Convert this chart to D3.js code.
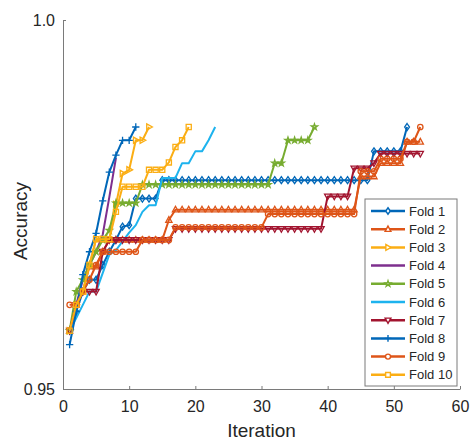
<!DOCTYPE html>
<html>
<head>
<meta charset="utf-8">
<script src="https://cdn.jsdelivr.net/npm/d3@7/dist/d3.min.js"></script>
<style>
  html, body { margin: 0; padding: 0; background: #fff; }
  svg { display: block; }
  text { font-family: "Liberation Sans", Arial, sans-serif; fill: #262626; }
</style>
</head>
<body>
<svg id="chart" width="470" height="440"></svg>
<script>
// ---------- data ----------
const seriesNames = ["Fold 1","Fold 2","Fold 3","Fold 4","Fold 5","Fold 6","Fold 7","Fold 8","Fold 9","Fold 10"];
const xTicks = [0, 10, 20, 30, 40, 50, 60];
const yTicks = [0.95, 1.0];
const yTickLabels = ["0.95", "1.0"];

const fold1 = [0.9579,0.9605,0.9632,0.9648,0.9648,0.9668,0.9686,0.9702,0.9720,0.9722,0.9758,0.9758,0.9758,0.9758,
  0.9783,0.9783,0.9783,0.9783,0.9783,0.9783,0.9783,0.9783,
  0.9783,0.9783,0.9783,0.9783,0.9783,0.9783,0.9783,0.9783,
  0.9783,0.9783,0.9783,0.9783,0.9783,0.9783,0.9783,0.9783,
  0.9783,0.9783,0.9783,0.9783,0.9783,0.9783,0.9783,0.9783,
  0.9822,0.9822,0.9822,0.9822,0.9822,0.9855];
const fold2 = [0.9579,0.9614,0.9632,0.9666,0.9666,0.9686,
  0.9702,0.9702,0.9702,0.9702,0.9702,0.9702,0.9702,0.9702,0.9702,
  0.9729,
  0.9743,0.9743,0.9743,0.9743,0.9743,0.9743,0.9743,
  0.9743,0.9743,0.9743,0.9743,0.9743,0.9743,0.9743,
  0.9743,0.9743,0.9743,0.9743,0.9743,0.9743,0.9743,
  0.9743,0.9743,0.9743,0.9743,0.9743,0.9743,0.9743,
  0.9788,0.9788,0.9788,0.9806,0.9806,0.9806,0.9806,0.9835,0.9835,0.9835];
const fold3 = [0.9579,0.9614,0.9632,0.9668,0.9703,0.9703,0.9703,0.9750,0.9792,0.9797,0.9837,0.9837,0.9855];
const fold4 = [0.9579,0.9614,0.9648,0.9668,0.9686,0.9709,0.9760,0.9813];
const fold5 = [0.9579,0.9632,0.9648,0.9668,0.9686,0.9702,0.9715,
  0.9752,0.9752,0.9752,0.9752,
  0.9777,0.9777,0.9777,0.9777,0.9777,0.9777,0.9777,0.9777,0.9777,0.9777,
  0.9777,0.9777,0.9777,0.9777,0.9777,0.9777,0.9777,0.9777,0.9777,0.9777,
  0.9806,0.9806,0.9837,0.9837,0.9837,0.9837,0.9855];
const fold6 = [0.9579,0.9596,0.9614,0.9632,0.9632,0.9657,0.9682,0.9688,0.9700,0.9712,0.9722,0.9740,
  0.9749,0.9749,0.9786,0.9786,0.9786,0.9806,0.9806,0.9822,0.9822,0.9837,0.9855];
const fold7 = [0.9579,0.9614,0.9632,0.9632,0.9632,0.9686,
  0.9702,0.9702,0.9702,0.9702,0.9702,0.9702,0.9702,0.9702,0.9702,0.9702,
  0.9717,0.9717,0.9717,0.9717,0.9717,0.9717,0.9717,0.9717,
  0.9717,0.9717,0.9717,0.9717,0.9717,0.9717,0.9717,0.9717,
  0.9717,0.9717,0.9717,0.9717,0.9717,0.9717,0.9717,
  0.9761,0.9761,0.9761,0.9761,
  0.9799,0.9799,0.9799,0.9806,
  0.9819,0.9819,0.9819,0.9819,0.9819,0.9819,0.9819];
const fold8 = [0.9560,0.9605,0.9655,0.9686,0.9711,0.9755,0.9794,0.9817,0.9837,0.9837,0.9855];
const fold9 = [0.9614,0.9614,0.9632,0.9648,0.9668,
  0.9686,0.9686,0.9686,0.9686,0.9686,0.9686,
  0.9702,0.9702,0.9702,0.9702,0.9702,
  0.9719,0.9719,0.9719,0.9719,0.9719,0.9719,0.9719,
  0.9719,0.9719,0.9719,0.9719,0.9719,0.9719,0.9719,
  0.9737,0.9737,0.9737,0.9737,0.9737,0.9737,0.9737,
  0.9737,0.9737,0.9737,0.9737,0.9737,0.9737,0.9737,
  0.9795,0.9795,0.9795,0.9812,0.9812,0.9812,0.9812,0.9835,0.9835,0.9855];
const fold10 = [0.9579,0.9614,0.9632,0.9668,0.9703,0.9703,0.9703,0.9740,
  0.9774,0.9774,0.9774,0.9774,0.9797,0.9797,0.9797,0.9807,0.9828,0.9837,0.9855];

const allSeries = [fold1, fold2, fold3, fold4, fold5, fold6, fold7, fold8, fold9, fold10];
const colors = ["#0067B8","#DE5518","#FBAE14","#7E2F8E","#77AC30","#1DB3EE","#A2142F","#0067B8","#DE5518","#FBAE14"];
const markers = ["diamond","tri-up","tri-right","none","star","none","tri-down","plus","circle","square"];

// ---------- scales ----------
const svg = d3.select("#chart");
const x = d3.scaleLinear().domain([0, 60]).range([63, 460]);
const y = d3.scaleLinear().domain([0.95, 1.0]).range([389, 20]);

// ---------- marker shapes ----------
function markerPath(type, r) {
  switch (type) {
    case "circle": return d3.symbol(d3.symbolCircle, Math.PI * r * r)();
    case "diamond": return `M0,${-r*1.3}L${r*0.9},0L0,${r*1.3}L${-r*0.9},0Z`;
    case "tri-up": return `M0,${-r*1.25}L${r*1.15},${r*0.85}L${-r*1.15},${r*0.85}Z`;
    case "tri-down": return `M0,${r*1.25}L${r*1.15},${-r*0.85}L${-r*1.15},${-r*0.85}Z`;
    case "tri-right": return `M${r*1.25},0L${-r*0.85},${r*1.15}L${-r*0.85},${-r*1.15}Z`;
    case "square": return `M${-r*0.95},${-r*0.95}H${r*0.95}V${r*0.95}H${-r*0.95}Z`;
    case "plus": return `M${-r*1.35},0H${r*1.35}M0,${-r*1.35}V${r*1.35}`;
    case "star": return d3.symbol(d3.symbolStar, 1.6 * r * r)();
    default: return null;
  }
}

// ---------- axes ----------
const xAxis = d3.axisBottom(x).tickValues(xTicks).tickSize(-3).tickSizeOuter(0).tickPadding(12);
const yAxis = d3.axisLeft(y).tickValues(yTicks).tickFormat((d, i) => yTickLabels[i]).tickSize(-3).tickSizeOuter(0).tickPadding(8);

const gx = svg.append("g").attr("transform", "translate(0,389)").call(xAxis);
const gy = svg.append("g").attr("transform", "translate(63,0)").call(yAxis);
[gx, gy].forEach(g => {
  g.select(".domain").attr("stroke", "#7a7a7a").attr("stroke-width", 1);
  g.selectAll(".tick line").attr("stroke", "#7a7a7a");
  g.selectAll(".tick text").style("font-size", "16px").attr("fill", "#262626");
});

// ---------- lines ----------
const line = d3.line().x((d, i) => x(i + 1)).y(d => y(d));
const plot = svg.append("g");
allSeries.forEach((s, k) => {
  const g = plot.append("g");
  g.append("path").datum(s).attr("d", line)
    .attr("fill", "none").attr("stroke", colors[k]).attr("stroke-width", 2)
    .attr("stroke-linejoin", "round");
  const mp = markerPath(markers[k], 2.7);
  if (mp) {
    g.selectAll("path.m").data(s).join("path").attr("class", "m")
      .attr("d", mp)
      .attr("transform", (d, i) => `translate(${x(i + 1)},${y(d)})`)
      .attr("fill", "none").attr("stroke", colors[k]).attr("stroke-width", 1.3);
  }
});

// ---------- axis labels ----------
svg.append("text").attr("x", 261.5).attr("y", 437).attr("text-anchor", "middle")
  .style("font-size", "19px").text("Iteration");
svg.append("text").attr("transform", "translate(27,221) rotate(-90)").attr("text-anchor", "middle")
  .style("font-size", "19px").text("Accuracy");

// ---------- legend ----------
const lg = svg.append("g");
lg.append("rect").attr("x", 365).attr("y", 199).attr("width", 92).attr("height", 187)
  .attr("fill", "#fff").attr("stroke", "#7a7a7a").attr("stroke-width", 1);
seriesNames.forEach((name, k) => {
  const yy = 211 + k * 18.2;
  lg.append("line").attr("x1", 371).attr("x2", 405).attr("y1", yy).attr("y2", yy)
    .attr("stroke", colors[k]).attr("stroke-width", 2.5);
  const mp = markerPath(markers[k], 2.5);
  if (mp) {
    lg.append("path").attr("d", mp).attr("transform", `translate(388,${yy})`)
      .attr("fill", "#fff").attr("stroke", colors[k]).attr("stroke-width", 1.4);
  }
  lg.append("text").attr("x", 409).attr("y", yy).attr("dy", "0.36em")
    .style("font-size", "13px").text(name);
});
</script>
</body>
</html>
